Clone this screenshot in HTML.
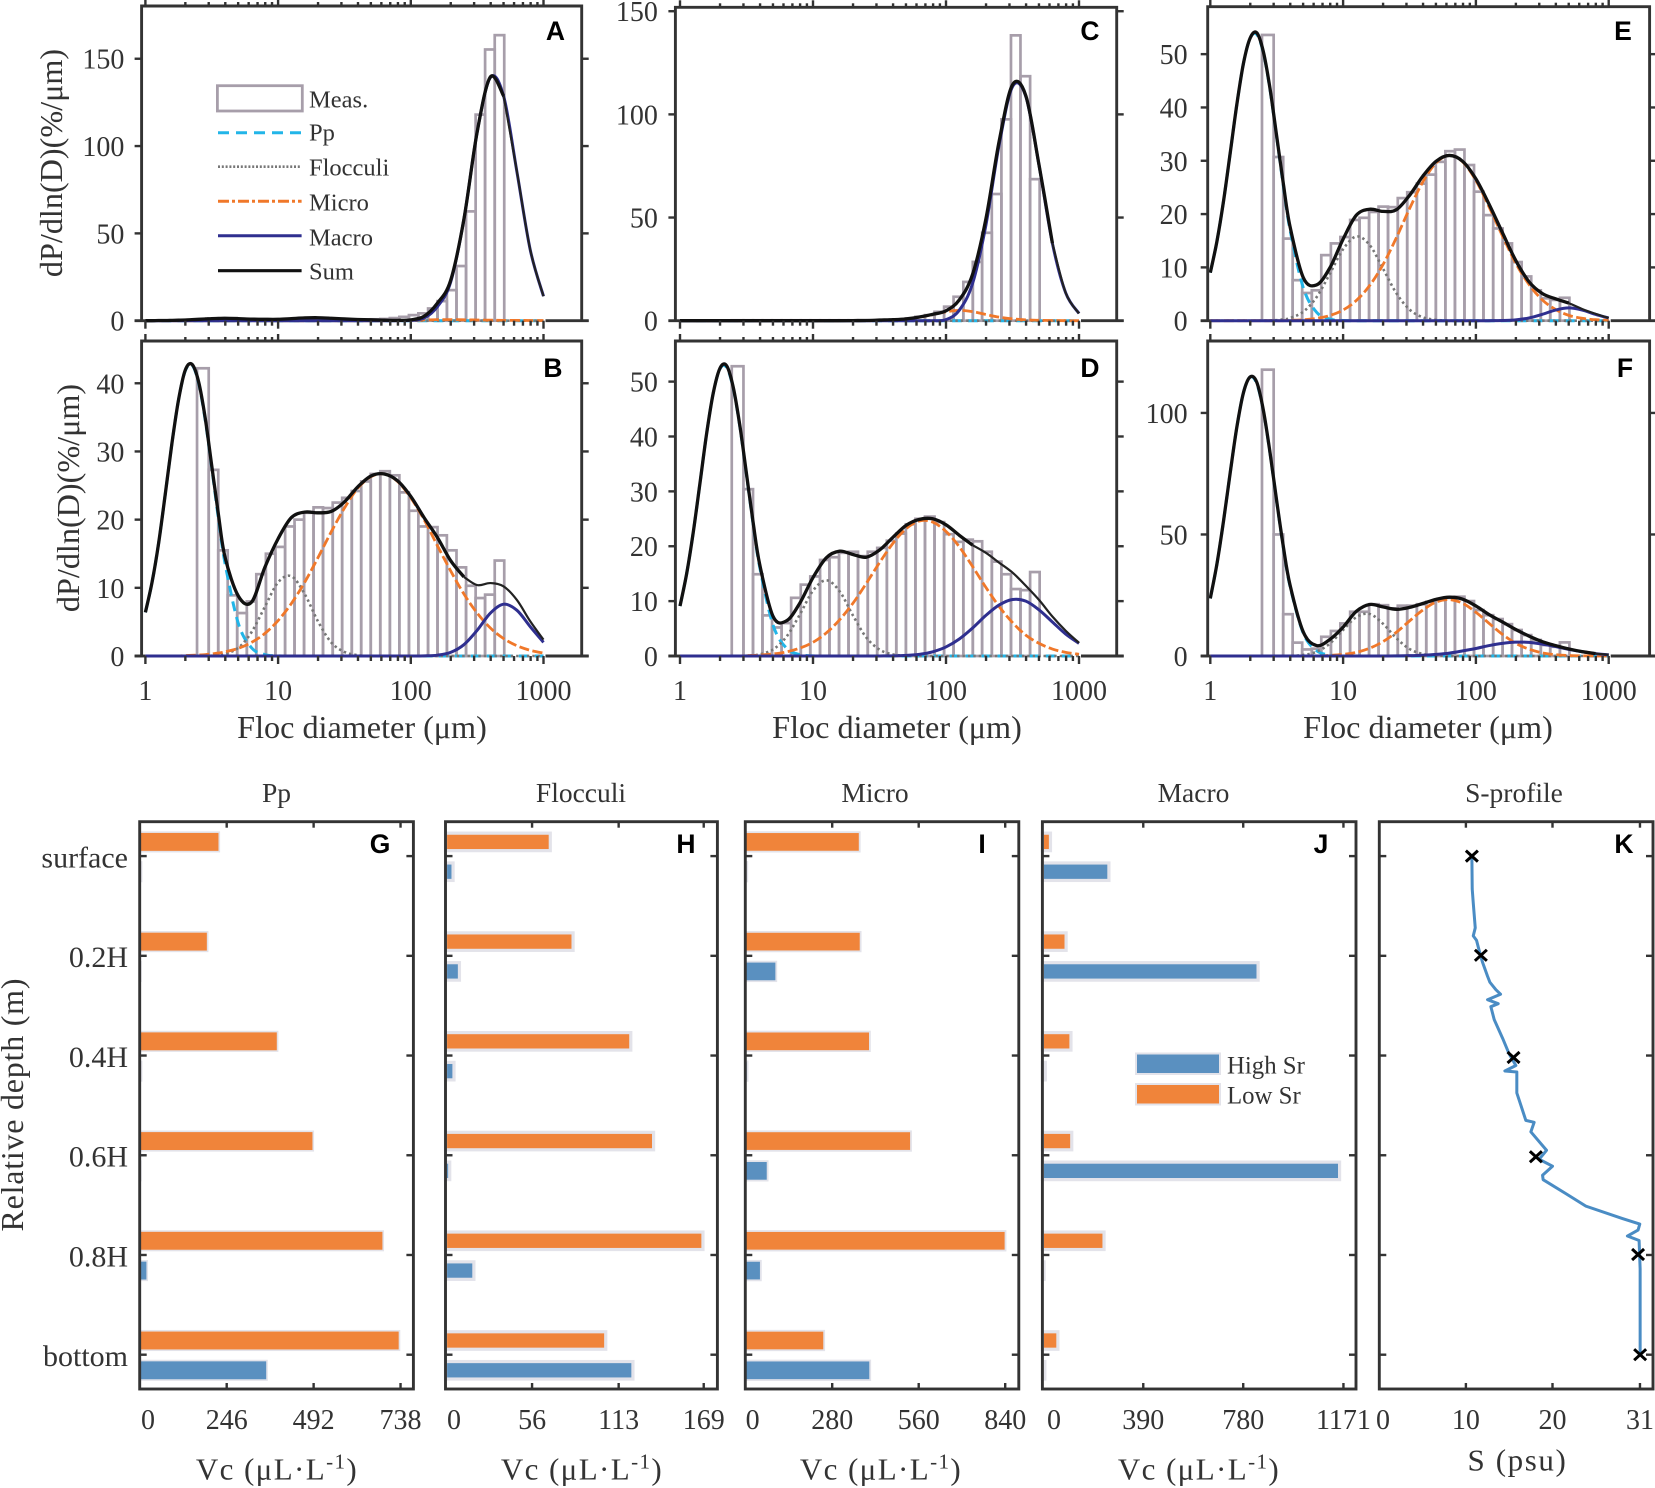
<!DOCTYPE html>
<html lang="en">
<head>
<meta charset="utf-8">
<title>Floc size distributions and volume concentrations</title>
<style>
html,body{margin:0;padding:0;background:#fff;}
svg{display:block;}
text{font-family:"Liberation Serif",serif;fill:#333;}
.letter{font-family:"Liberation Sans",sans-serif;font-weight:bold;font-size:26.5px;fill:#000;text-anchor:middle;}
.axt{font-size:32.2px;text-anchor:middle;}
.ttl{font-size:27.5px;text-anchor:middle;}
.leg{font-size:24.5px;}
.vc{font-size:31px;text-anchor:middle;letter-spacing:1.4px;}
</style>
</head>
<body>
<svg id="chart" xmlns="http://www.w3.org/2000/svg" width="1655" height="1488" viewBox="0 0 1655 1488">
  <rect x="0" y="0" width="1655" height="1488" fill="#fff"/>
  <g id="plots"></g>

  <text class="axt" transform="translate(62,163) rotate(-90)">dP/dln(D)(%/μm)</text>
  <text class="axt" transform="translate(79,498) rotate(-90)">dP/dln(D)(%/μm)</text>
  <text class="axt" x="362" y="738">Floc diameter (μm)</text>
  <text class="axt" x="897" y="738">Floc diameter (μm)</text>
  <text class="axt" x="1428" y="738">Floc diameter (μm)</text>

  <text class="letter" x="555.5" y="40">A</text>
  <text class="letter" x="553" y="377">B</text>
  <text class="letter" x="1090" y="40">C</text>
  <text class="letter" x="1090" y="377">D</text>
  <text class="letter" x="1623" y="40">E</text>
  <text class="letter" x="1625" y="377">F</text>
  <text class="letter" x="380" y="853">G</text>
  <text class="letter" x="686" y="853">H</text>
  <text class="letter" x="982" y="853">I</text>
  <text class="letter" x="1321" y="853">J</text>
  <text class="letter" x="1624" y="853">K</text>

  <g>
    <rect x="217.4" y="85.7" width="84.9" height="25.3" fill="#fff" stroke="#a79eaa" stroke-width="2.8"/>
    <line x1="218" x2="301.6" y1="132.7" y2="132.7" stroke="#22b5e8" stroke-width="3" stroke-dasharray="11 7"/>
    <line x1="218" x2="301.6" y1="166.7" y2="166.7" stroke="#777" stroke-width="2.6" stroke-dasharray="2 1.8"/>
    <line x1="218" x2="301.6" y1="201.3" y2="201.3" stroke="#f0782a" stroke-width="3" stroke-dasharray="11 3 3 3"/>
    <line x1="218" x2="301.6" y1="235.7" y2="235.7" stroke="#2f2f8f" stroke-width="3"/>
    <line x1="218" x2="301.6" y1="270.7" y2="270.7" stroke="#111" stroke-width="3.2"/>
    <text class="leg" x="309" y="107.3">Meas.</text>
    <text class="leg" x="309" y="140.7">Pp</text>
    <text class="leg" x="309" y="175.7">Flocculi</text>
    <text class="leg" x="309" y="210.7">Micro</text>
    <text class="leg" x="309" y="245.7">Macro</text>
    <text class="leg" x="309" y="279.3">Sum</text>
  </g>

  <text class="ttl" x="276.5" y="802">Pp</text>
  <text class="ttl" x="581" y="802">Flocculi</text>
  <text class="ttl" x="875" y="802">Micro</text>
  <text class="ttl" x="1193.5" y="802">Macro</text>
  <text class="ttl" x="1514" y="802">S-profile</text>

  <text font-size="32" text-anchor="middle" textLength="253" transform="translate(23,1105) rotate(-90)">Relative depth (m)</text>

  <text class="vc" x="277" y="1479.7">Vc (μL·L<tspan dy="-11" font-size="21">-1</tspan><tspan dy="11">)</tspan></text>
  <text class="vc" x="582" y="1479.7">Vc (μL·L<tspan dy="-11" font-size="21">-1</tspan><tspan dy="11">)</tspan></text>
  <text class="vc" x="881" y="1479.7">Vc (μL·L<tspan dy="-11" font-size="21">-1</tspan><tspan dy="11">)</tspan></text>
  <text class="vc" x="1199" y="1479.7">Vc (μL·L<tspan dy="-11" font-size="21">-1</tspan><tspan dy="11">)</tspan></text>
  <text font-size="31" text-anchor="middle" letter-spacing="1.6" x="1517.5" y="1470.5">S (psu)</text>

  <g>
    <rect x="1136" y="1053.5" width="84" height="20.5" fill="#5a90c0" stroke="#e3e3ea" stroke-width="2"/>
    <rect x="1136" y="1084" width="84" height="20.5" fill="#f0843a" stroke="#e3e3ea" stroke-width="2"/>
    <text font-size="24.8" x="1227" y="1073.6">High Sr</text>
    <text font-size="24.8" x="1227" y="1103.3">Low Sr</text>
  </g>
</svg>
<script>
/* ---------- shared x values ---------- */
const curveDiameters = [1,1.122,1.259,1.413,1.585,1.778,1.995,2.239,2.512,2.818,3.162,3.548,3.981,5.012,6.31,7.943,10,12.59,15.85,19.95,25.12,31.62,39.81,50.12,63.1,79.43,100,125.9,158.5,199.5,251.2,316.2,398.1,501.2,631,794.3,1000];
const binEdges = [2.45,3,3.54,4.17,4.92,5.81,6.85,8.09,9.54,11.3,13.3,15.7,18.5,21.8,25.8,30.4,35.9,42.3,49.9,58.9,69.5,82,96.8,114,135,159,187,221,261,308,363,429,506];
const xTickValues = [1,10,100,1000];
const xTickLabels = ["1","10","100","1000"];

/* ---------- panel A ---------- */
const yTicks_A = [0,50,100,150];
const meas_A = [.2,.2,.2,.2,.2,.2,.2,.2,.2,.2,.2,.2,.2,.2,.3,.4,.5,.6,.8,1,1.5,2.2,3.2,4.2,7,11.2,17.5,31.3,62.6,118,155.3,163.5];
const pp_A = [0,0,0,0,0,0,0,0,0,0,0,0,0, 0,0,0,0, 0,0,0,0,0,0,0,0,0,0, 0,0,0,0,0,0,0,0,0,0];
const floc_A = [0,0,0,0,0,0,0,0,0,0,0,0,0, 0,0,0,0, 0,0,0,0,0,0,0,0,0,0, 0,0,0,0,0,0,0,0,0,0];
const micro_A = [0,0,0,0,0,0,0,0,0,0,0,0,0, 0,0,0,0, 0,0,0,0,0,0,0,0,0,.2, .4,.6,.6,.5,.4,.3,.2,.2,.1,.1];
const macro_A = [0,0,0,0,0,0,0,0,0,0,0,0,0, 0,0,0,0, 0,0,0,0,0,0,0,0,0,.2, 1.5,8,22,58,108,139.3,128.4,85.1,40.6,14];
const sum_A = [0,0,.1,.1,.2,.3,.4,.6,.8,1,1.2,1.3,1.4, 1.2,.9,.8,.8, 1.2,1.6,1.7,1.4,1,.7,.5,.3,.2,.5, 2.5,10,23,58,108,139.6,128.6,85.3,40.7,14];

/* ---------- panel B ---------- */
const yTicks_B = [0,10,20,30,40];
const meas_B = [42.2,27.3,15.5,8.9,6.3,8,12,15,16,19,20,21,21.8,21.7,22.5,23.2,24.2,25.6,26.7,27.1,26.5,24,21.3,19,18.9,17.7,15.5,13,10.3,8.5,9,14];
const pp_B = [6.4,10.8,16.6,23.8,31.2,37.6,41.8,42.7,40.1,34.7,27.6,20.2,13.6, 4.8,1.2,.2,.03, 0,0,0,0,0,0,0,0,0,0, 0,0,0,0,0,0,0,0,0,0];
const floc_B = [0,0,0,0,0,0,0,0,0,0,.05,.1,.3, 1.2,3.5,7.2,10.8, 11.7,9.1,5.1,2,.6,.12,0,0,0,0, 0,0,0,0,0,0,0,0,0,0];
const micro_B = [0,0,0,0,0,0,.07,.1,.15,.2,.31,.43,.61, 1.13,2,3.3,5.2, 7.7,10.8,14.4,18.2,21.7,24.6,26.3,26.7,25.6,23.2, 20,16.2,12.5,9.1,6.3,4.1,2.55,1.5,.83,.43];
const macro_B = [0,0,0,0,0,0,0,0,0,0,0,0,0, 0,0,0,0, 0,0,0,0,0,0,0,0,0,0, .02,.12,.53,1.66,3.77,6.3,7.6,6.7,4.3,2];
const sum_B = [6.4,10.8,16.6,23.8,31.2,37.6,41.9,42.8,40.3,35,27.9,20.8,14.5, 8.8,7.9,13,17.2, 20.3,21.1,21,21.2,22.6,24.8,26.4,26.7,25.7,23.4, 20.3,17.4,14,11.6,10.4,10.7,10.2,8.2,5.1,2.4];

/* ---------- panel C ---------- */
const yTicks_C = [0,50,100,150];
const meas_C = [.2,.2,.2,.2,.2,.2,.2,.2,.2,.2,.2,.2,.2,.2,.2,.2,.2,.6,1.1,1.9,2.7,4.3,6.8,11.6,18.8,28.5,42.6,61.4,97.6,138.3,118.5,68.6];
const pp_C = [0,0,0,0,0,0,0,0,0,0,0,0,0, 0,0,0,0, 0,0,0,0,0,0,0,0,0,0, 0,0,0,0,0,0,0,0,0,0];
const floc_C = [0,0,0,0,0,0,0,0,0,0,0,0,0, 0,0,0,0, 0,0,0,0,0,0,0,0,0,0, 0,0,0,0,0,0,0,0,0,0];
const micro_C = [0,0,0,0,0,0,0,0,0,0,0,0,0, 0,0,0,0, 0,0,0,0,.1,.3,.8,1.7,3,4.3, 5,4.4,3,1.7,.9,.4,.2,.1,0,0];
const macro_C = [0,0,0,0,0,0,0,0,0,0,0,0,0, 0,0,0,0, 0,0,0,0,0,0,0,0,0,.5, 5.1,18.1,46.3,85.4,113.4,108.7,75.1,37.5,13.5,3.5];
const sum_C = [0,0,0,0,0,0,0,0,0,0,0,0,0, 0,0,0,0, 0,0,.05,.1,.3,.5,.9,1.8,3.1,4.8, 10.1,22.5,49.3,87.1,114.3,109.1,75.3,37.6,13.5,3.5];

/* ---------- panel D ---------- */
const yTicks_D = [0,10,20,30,40,50];
const meas_D = [52.8,30.4,14.9,7.4,5.2,6,10.6,13,14.5,17.5,18,18.8,19,18.2,19,19.7,21,22.3,24,25,25.4,24.4,22.2,20.8,21.2,20.9,19,17.2,14.9,12.2,12,15.3];
const pp_D = [9.1,15,22.6,31.5,40.5,47.9,52.3,52.6,48.8,41.8,33,24,16.1, 5.6,1.45,.26,.03, 0,0,0,0,0,0,0,0,0,0, 0,0,0,0,0,0,0,0,0,0];
const floc_D = [0,0,0,0,0,0,0,0,0,0,.06,.13,.3, 1.2,3.5,7.5,11.9, 13.8,11.8,7.4,3.4,1.17,.29,.06,0,0,0, 0,0,0,0,0,0,0,0,0,0];
const micro_D = [0,0,0,0,0,0,0,0,0,0,.07,.1,.17, .37,.75,1.43,2.5, 4.2,6.6,9.6,13.2,17,20.5,23.2,24.6,24.4,22.7, 19.9,16.3,12.5,9,6.1,3.8,2.3,1.27,.66,.32];
const macro_D = [0,0,0,0,0,0,0,0,0,0,0,0,0, 0,0,0,0, 0,0,0,0,.01,.03,.11,.31,.77,1.65, 3.1,5.1,7.4,9.3,10.3,10,8.4,6.2,4,2.3];
const sum_D = [9.1,15,22.6,31.5,40.5,47.9,52.4,52.9,49,42,33.2,24.3,16.6, 7.2,6.4,9.6,14.3, 17.9,19.1,18.5,18,19.3,21.6,23.8,24.9,25,23.9, 22,20.2,18.8,17,15.2,12.8,10.2,7.2,4.6,2.4];

/* ---------- panel E ---------- */
const yTicks_E = [0,10,20,30,40,50];
const meas_E = [53.6,30.7,15.4,7.6,5.2,5.7,12.3,14.5,15.7,18.9,19.3,20.4,21.4,21.3,23,24.1,25.7,27.4,29.8,31.8,32.1,29.2,24.2,19.8,17.3,14.5,11,8.3,5.7,4.2,3.9,4.3];
const pp_E = [9,14.9,22.5,31.5,40.6,48.3,53,53.7,50.2,43.3,34.4,25.3,17.1, 6.2,1.6,.3,.03, 0,0,0,0,0,0,0,0,0,0, 0,0,0,0,0,0,0,0,0,0];
const floc_E = [0,0,0,0,0,0,0,0,.02,.05,.11,.25,.49, 1.68,4.4,8.8,13.4, 15.8,14.2,9.8,5.2,2.1,.64,.15,.03,0,0, 0,0,0,0,0,0,0,0,0,0];
const micro_E = [0,0,0,0,0,0,0,0,0,0,0,0,.07, .17,.43,.97,2, 3.8,6.6,10.5,15.5,21,26,29.6,31,29.8,26.3, 21.3,15.9,10.8,6.8,3.9,2.1,1,.45,.19,.07];
const macro_E = [0,0,0,0,0,0,0,0,0,0,0,0,0, 0,0,0,0, 0,0,0,0,0,0,0,0,0,0, 0,.03,.16,.52,1.2,2,2.4,2,1.2,.5];
const sum_E = [9,14.9,22.5,31.5,40.6,48.3,53,54,50.4,43.5,34.6,25.7,17.7, 8.1,6.7,9.9,15.3, 19.8,20.9,20.5,20.8,23.5,27.1,29.9,31,29.9,26.6, 21.8,16.5,11.3,7.3,5.1,4.1,3.3,2.2,1.3,.5];

/* ---------- panel F ---------- */
const yTicks_F = [0,50,100];
const meas_F = [117.8,50,17.2,5.5,2.7,3,7.9,10.3,13.4,18.2,18.2,21.3,20.9,19.6,20.7,20.7,21.3,22.3,23,23.9,24.4,22.6,18.9,16.8,15.2,13.1,10.7,8.6,6.6,4.5,3.8,5.6];
const pp_F = [23.7,37.9,55.7,75.5,94.2,108.4,114.8,112,100.7,83.3,63.5,44.6,28.8, 9.4,2.2,.4,.05, 0,0,0,0,0,0,0,0,0,0, 0,0,0,0,0,0,0,0,0,0];
const floc_F = [0,0,0,0,0,0,0,0,0,0,0,0,.08, .43,1.75,5.1,10.7, 16,17.3,13.3,7.4,2.9,.83,.17,.03,0,0, 0,0,0,0,0,0,0,0,0,0];
const micro_F = [0,0,0,0,0,0,0,0,0,0,0,0,0, 0,0,.25,.65, 1.5,3.2,5.9,9.7,14.4,18.9,22.2,23.2,21.7,18, 13.4,8.9,5.2,2.8,1.3,.55,.2,.07,.02,0];
const macro_F = [0,0,0,0,0,0,0,0,0,0,0,0,0, 0,0,0,0, 0,0,0,.05,.13,.31,.65,1.2,2.1,3.1, 4.3,5.2,5.7,5.6,4.9,3.9,2.7,1.75,1,.5];
const sum_F = [23.7,37.9,55.7,75.5,94.2,108.4,114.8,112.6,101,83.6,63.8,45,29.3, 9.9,4.3,6.8,11.9, 18.4,21.2,20.2,19.2,20,21.6,23.3,24.2,23.4,20.6, 17,14,10.9,8.2,5.9,4.3,2.9,1.8,1,.5];

/* ---------- bar panels G-J ---------- */
const depthLabels = ["surface","0.2H","0.4H","0.6H","0.8H","bottom"];
const depthTicks = [0,.2,.4,.6,.8,1];
const lowSr_G = [225,192,390,491,689,735];
const highSr_G = [5,3,5,3,21,360];
const vcTicks_G = [246,492,738];
const lowSr_H = [68,83,121,136,168.5,104.5];
const highSr_H = [4,8.2,4.6,1.8,17.7,122.4];
const vcTicks_H = [56,113,169];
const lowSr_I = [369,372,402,535,841,254];
const highSr_I = [5,99,6,71,49,403];
const vcTicks_I = [280,560,840];
const lowSr_J = [28,89,108,111,237,57];
const highSr_J = [256,838,8,1156,3,6];
const vcTicks_J = [390,780,1171];

/* ---------- salinity profile K ---------- */
const salinity = [10.69,10.73,10.85,11.08,10.85,11.23,11.54,11.92,12.5,12.77,13.46,14,12.5,13.73,12.88,13.27,14.23,15,15.77,14.5,15.88,15.88,16.92,17.88,17.5,19.31,18.46,20,18.85,18.92,21.54,23.85,28.08,30.08,29.88,28.65,30,30.12,30.12];
const profileDepth = [.002,.066,.094,.144,.16,.169,.19,.213,.241,.253,.268,.277,.288,.296,.302,.328,.365,.397,.42,.431,.433,.475,.53,.534,.553,.59,.608,.622,.64,.649,.677,.702,.727,.738,.75,.762,.771,.828,1];
const sampleSalinity = [10.69,11.73,15.5,18.08,29.88,30.12];
const sampleDepth = [0,.199,.404,.603,.799,1];
const salinityTicks = [10,20,30.1];
const salinityTickLabels = ["10","20","31"];

/* ---------- drawing ---------- */
const NS = "http://www.w3.org/2000/svg";
const plots = document.getElementById('plots');
const AXIS = "#333";
function node(tag, attrs, parent){
  const el = document.createElementNS(NS, tag);
  for (const k in attrs) el.setAttribute(k, attrs[k]);
  parent.appendChild(el);
  return el;
}
function splinePath(pts){
  let d = "M" + pts[0][0].toFixed(2) + " " + pts[0][1].toFixed(2);
  for (let i = 0; i < pts.length - 1; i++){
    const p0 = pts[Math.max(i-1,0)], p1 = pts[i], p2 = pts[i+1], p3 = pts[Math.min(i+2,pts.length-1)];
    const c1x = p1[0] + (p2[0]-p0[0])/6, c1y = p1[1] + (p2[1]-p0[1])/6;
    const c2x = p2[0] - (p3[0]-p1[0])/6, c2y = p2[1] - (p3[1]-p1[1])/6;
    d += "C" + c1x.toFixed(2) + " " + c1y.toFixed(2) + " " + c2x.toFixed(2) + " " + c2y.toFixed(2) + " " + p2[0].toFixed(2) + " " + p2[1].toFixed(2);
  }
  return d;
}

function drawDistribution(cfg){
  const g = node('g', {}, plots);
  
  
  const xs = v => cfg.x1 + Math.log10(v) * cfg.dec;
  const ys = v => cfg.y0 - v / cfg.yMax * (cfg.y0 - cfg.top);

  for (let i = 0; i < cfg.meas.length; i++){
    const h = cfg.meas[i];
    const bar = node('rect', {x: xs(binEdges[i]), y: ys(h), width: xs(binEdges[i+1]) - xs(binEdges[i]), height: cfg.y0 - ys(h), fill: 'none', stroke: '#a79eaa', 'stroke-width': 2.7}, g);
    
    
  }

  const ptsOf = vals => vals.map((v, i) => [xs(curveDiameters[i]), ys(v)]);
  const pp = node('path', {d: splinePath(ptsOf(cfg.pp)), fill: 'none', stroke: '#22b5e8', 'stroke-width': 3, 'stroke-dasharray': '10 6'}, g);
  
  
  const fl = node('path', {d: splinePath(ptsOf(cfg.floc)), fill: 'none', stroke: '#777', 'stroke-width': 2.6, 'stroke-dasharray': '2.4 3'}, g);
  
  
  const mi = node('path', {d: splinePath(ptsOf(cfg.micro)), fill: 'none', stroke: '#f0782a', 'stroke-width': 2.8, 'stroke-dasharray': '10 3.5'}, g);
  
  
  const ma = node('path', {d: splinePath(ptsOf(cfg.macro)), fill: 'none', stroke: '#2f2f8f', 'stroke-width': 3}, g);
  
  

  const sumPts = ptsOf(cfg.sum);
  const headEnd = curveDiameters.findIndex(d => d >= cfg.thinFrom);
  const su = node('path', {d: splinePath(sumPts.slice(0, headEnd + 1)), fill: 'none', stroke: '#111', 'stroke-width': 3.3, 'stroke-linejoin': 'round'}, g);
  
  
  const tail = node('path', {d: splinePath(sumPts.slice(headEnd)), fill: 'none', stroke: '#222', 'stroke-width': 2.2}, g);
  
  

  const box = node('path', {d: 'M' + cfg.left + ' ' + cfg.y0 + 'V' + cfg.top + 'H' + cfg.right + 'V' + cfg.y0, fill: 'none', stroke: AXIS, 'stroke-width': 2.9}, g);
  
  
  /* the zero line only shows outside the curves, so it goes under the right-hand end of the marks */
  const base1 = node('line', {x1: cfg.left - 7, x2: xs(1), y1: cfg.y0, y2: cfg.y0, stroke: AXIS, 'stroke-width': 2.9}, g);
  
  
  const base2 = node('line', {x1: xs(1000) + 2, x2: cfg.right + 7, y1: cfg.y0, y2: cfg.y0, stroke: AXIS, 'stroke-width': 2.9}, g);
  
  

  for (let dec = 1; dec < 1000; dec *= 10){
    for (let m = 1; m <= 9; m++){
      const v = dec * m;
      const len = m === 1 ? 7 : 4;
      const xx = xs(v);
      const tb = node('line', {x1: xx, x2: xx, y1: cfg.y0, y2: cfg.y0 + len + 1, stroke: AXIS, 'stroke-width': 2.4}, g);
      
      
      const tt = node('line', {x1: xx, x2: xx, y1: cfg.top, y2: cfg.top - len, stroke: AXIS, 'stroke-width': 2.4}, g);
      
      
    }
  }
  const xe = xs(1000);
  const te1 = node('line', {x1: xe, x2: xe, y1: cfg.y0, y2: cfg.y0 + 8, stroke: AXIS, 'stroke-width': 2.4}, g);
  
  
  const te2 = node('line', {x1: xe, x2: xe, y1: cfg.top, y2: cfg.top - 7, stroke: AXIS, 'stroke-width': 2.4}, g);
  
  

  cfg.yTicks.forEach(v => {
    const yy = ys(v);
    const tl = node('line', {x1: cfg.left - 7, x2: cfg.left, y1: yy, y2: yy, stroke: AXIS, 'stroke-width': 2.4}, g);
    
    
    const tr = node('line', {x1: cfg.right, x2: cfg.right + 7, y1: yy, y2: yy, stroke: AXIS, 'stroke-width': 2.4}, g);
    
    
    const lab = node('text', {x: cfg.labelRight, y: yy + 10, 'font-size': 28, 'text-anchor': 'end'}, g);
    
    
    lab.textContent = String(v);
  });

  if (cfg.showX){
    xTickValues.forEach((v, i) => {
      const lab = node('text', {x: xs(v), y: 700, 'font-size': 28, 'text-anchor': 'middle'}, g);
      
      
      lab.textContent = xTickLabels[i];
    });
  }
}

const depthY = d => 856.1 + d * (1354.7 - 856.1);

function drawBars(cfg){
  const g = node('g', {}, plots);
  
  
  const xs = v => cfg.zero + v / cfg.xMax * (cfg.right - cfg.zero);
  cfg.low.forEach((v, i) => {
    const yy = depthY(depthTicks[i]);
    const r = node('rect', {x: cfg.left, y: yy - 14.2 - cfg.barH / 2, width: xs(v) - cfg.left, height: cfg.barH, fill: '#f0843a', stroke: '#e3e3ea', 'stroke-width': cfg.edge}, g);
    
    
  });
  cfg.high.forEach((v, i) => {
    const yy = depthY(depthTicks[i]);
    const r = node('rect', {x: cfg.left, y: yy + 15.6 - cfg.barH / 2, width: xs(v) - cfg.left, height: cfg.barH, fill: '#5a90c0', stroke: '#e3e3ea', 'stroke-width': cfg.edge}, g);
    
    
  });
  const box = node('rect', {x: cfg.left, y: 821.7, width: cfg.right - cfg.left, height: 1389 - 821.7, fill: 'none', stroke: AXIS, 'stroke-width': 2.9}, g);
  
  
  drawDepthTicks(g, cfg.left, cfg.right);
  cfg.ticks.forEach(v => {
    const xx = xs(v);
    const a = node('line', {x1: xx, x2: xx, y1: 821.7, y2: 827.7, stroke: AXIS, 'stroke-width': 2.4}, g);
    
    
    const b = node('line', {x1: xx, x2: xx, y1: 1389, y2: 1383, stroke: AXIS, 'stroke-width': 2.4}, g);
    
    
    const lab = node('text', {x: xx, y: 1429, 'font-size': 28, 'text-anchor': 'middle'}, g);
    
    
    lab.textContent = String(v);
  });
  const z = node('text', {x: cfg.zeroLabel, y: 1429, 'font-size': 28, 'text-anchor': 'middle'}, g);
  
  
  z.textContent = "0";
}

function drawDepthTicks(g, left, right){
  depthTicks.forEach(d => {
    const yy = depthY(d);
    const a = node('line', {x1: left, x2: left + 7, y1: yy, y2: yy, stroke: AXIS, 'stroke-width': 2.4}, g);
    
    
    const b = node('line', {x1: right, x2: right - 7, y1: yy, y2: yy, stroke: AXIS, 'stroke-width': 2.4}, g);
    
    
  });
}

function drawDepthLabels(){
  const g = node('g', {}, plots);
  
  
  depthLabels.forEach((t, i) => {
    const lab = node('text', {x: 128, y: depthY(depthTicks[i]) + 11.4, 'font-size': 30, 'text-anchor': 'end'}, g);
    
    
    lab.textContent = t;
  });
}

function drawProfile(cfg){
  const g = node('g', {}, plots);
  
  
  const xs = v => cfg.left + v * cfg.pxPerPsu;
  const d = salinity.map((s, i) => (i ? 'L' : 'M') + xs(s).toFixed(2) + ' ' + depthY(profileDepth[i]).toFixed(2)).join('');
  const line = node('path', {d: d, fill: 'none', stroke: '#4a8cc4', 'stroke-width': 3, 'stroke-linejoin': 'round'}, g);
  
  
  sampleSalinity.forEach((s, i) => {
    const cx = xs(s), cy = depthY(sampleDepth[i]);
    const m = node('path', {d: 'M' + (cx-6) + ' ' + (cy-5.5) + 'L' + (cx+6) + ' ' + (cy+5.5) + 'M' + (cx-6) + ' ' + (cy+5.5) + 'L' + (cx+6) + ' ' + (cy-5.5), stroke: '#000', 'stroke-width': 3, fill: 'none'}, g);
    
    
  });
  const box = node('rect', {x: cfg.left, y: 821.7, width: cfg.right - cfg.left, height: 1389 - 821.7, fill: 'none', stroke: AXIS, 'stroke-width': 2.9}, g);
  
  
  drawDepthTicks(g, cfg.left, cfg.right);
  salinityTicks.forEach((v, i) => {
    const xx = xs(v);
    const a = node('line', {x1: xx, x2: xx, y1: 821.7, y2: 827.7, stroke: AXIS, 'stroke-width': 2.4}, g);
    
    
    const b = node('line', {x1: xx, x2: xx, y1: 1389, y2: 1383, stroke: AXIS, 'stroke-width': 2.4}, g);
    
    
    const lab = node('text', {x: xx, y: 1429, 'font-size': 28, 'text-anchor': 'middle'}, g);
    
    
    lab.textContent = salinityTickLabels[i];
  });
  const z = node('text', {x: 1383, y: 1429, 'font-size': 28, 'text-anchor': 'middle'}, g);
  
  
  z.textContent = "0";
}

drawDistribution({left:141.6,right:581.7,top:6,y0:320.7,x1:145.4,dec:132.7,yMax:180.2,labelRight:124.4,showX:false,thinFrom:500,meas:meas_A,pp:pp_A,floc:floc_A,micro:micro_A,macro:macro_A,sum:sum_A,yTicks:yTicks_A});
drawDistribution({left:141.6,right:581.7,top:341,y0:656,x1:145.4,dec:132.7,yMax:46.2,labelRight:124.4,showX:true,thinFrom:250,meas:meas_B,pp:pp_B,floc:floc_B,micro:micro_B,macro:macro_B,sum:sum_B,yTicks:yTicks_B});
drawDistribution({left:675.4,right:1116.7,top:7.3,y0:320.7,x1:680,dec:133,yMax:151.9,labelRight:657.9,showX:false,thinFrom:630,meas:meas_C,pp:pp_C,floc:floc_C,micro:micro_C,macro:macro_C,sum:sum_C,yTicks:yTicks_C});
drawDistribution({left:675.4,right:1116.7,top:341,y0:656,x1:680,dec:133,yMax:57.4,labelRight:657.9,showX:true,thinFrom:158,meas:meas_D,pp:pp_D,floc:floc_D,micro:micro_D,macro:macro_D,sum:sum_D,yTicks:yTicks_D});
drawDistribution({left:1207.7,right:1649.6,top:6.7,y0:320.7,x1:1210.3,dec:132.8,yMax:58.9,labelRight:1187.6,showX:false,thinFrom:500,meas:meas_E,pp:pp_E,floc:floc_E,micro:micro_E,macro:macro_E,sum:sum_E,yTicks:yTicks_E});
drawDistribution({left:1207.7,right:1649.6,top:341,y0:656,x1:1210.3,dec:132.8,yMax:129.6,labelRight:1187.6,showX:true,thinFrom:794,meas:meas_F,pp:pp_F,floc:floc_F,micro:micro_F,macro:macro_F,sum:sum_F,yTicks:yTicks_F});

drawBars({left:139.7,right:413.4,zero:139.8,xMax:774.4,edge:1.6,barH:19.5,low:lowSr_G,high:highSr_G,ticks:vcTicks_G,zeroLabel:148});
drawBars({left:445.5,right:717.4,zero:447,xMax:178,edge:3.2,barH:17.5,low:lowSr_H,high:highSr_H,ticks:vcTicks_H,zeroLabel:454});
drawBars({left:745.3,right:1018.8,zero:745.7,xMax:884,edge:1.8,barH:19.5,low:lowSr_I,high:highSr_I,ticks:vcTicks_I,zeroLabel:752.6});
drawBars({left:1042.4,right:1356,zero:1043.3,xMax:1220,edge:3.2,barH:17.5,low:lowSr_J,high:highSr_J,ticks:vcTicks_J,zeroLabel:1054});
drawDepthLabels();
drawProfile({left:1379.3,right:1653,pxPerPsu:8.66});
</script>
</body>
</html>
